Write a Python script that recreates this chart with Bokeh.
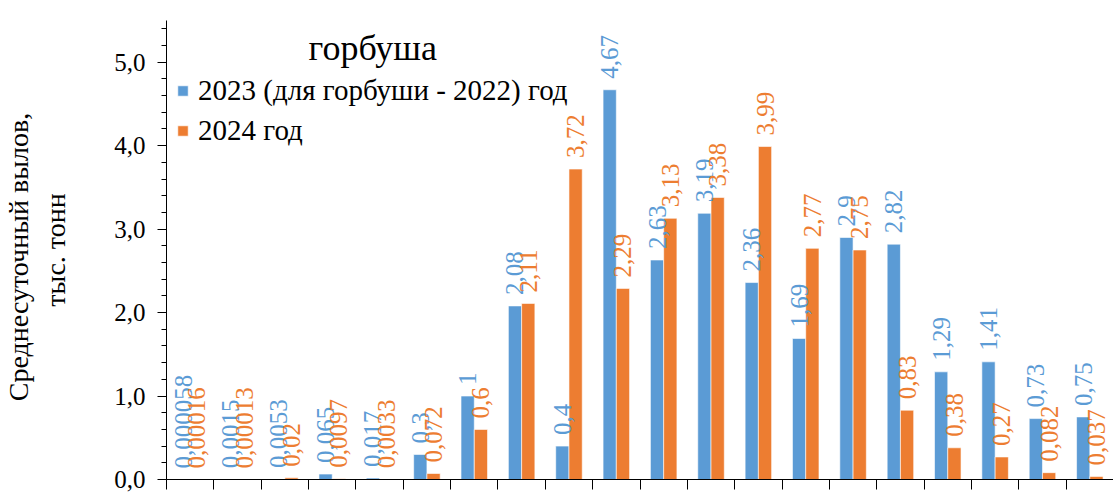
from math import pi
from bokeh.plotting import figure
from bokeh.models import (ColumnDataSource, FixedTicker, CustomJSTickFormatter, Legend,
                          LegendItem, Label, Range1d)
from bokeh.transform import dodge
from bokeh.core.properties import value
from bokeh.embed import file_html
from bokeh.resources import INLINE

title_text = "горбуша"
series_names = ["2023 (для горбуши - 2022) год", "2024 год"]
y_title = "Среднесуточный   вылов,\nтыс. тонн"

values_2023 = [0.000058, 0.0015, 0.0053, 0.065, 0.017, 0.3, 1.0, 2.08, 0.4, 4.67,
               2.63, 3.19, 2.36, 1.69, 2.9, 2.82, 1.29, 1.41, 0.73, 0.75]
values_2024 = [0.00016, 0.00013, 0.02, 0.0097, 0.0033, 0.072, 0.6, 2.11, 3.72, 2.29,
               3.13, 3.38, 3.99, 2.77, 2.75, 0.83, 0.38, 0.27, 0.082, 0.037]

BLUE = "#5B9BD5"
ORANGE = "#ED7D31"
SERIF = "'Liberation Serif', 'Times New Roman', serif"


def fmt(v):
    s = f"{v:.6f}".rstrip("0").rstrip(".")
    return s.replace(".", ",")


n = len(values_2023)
src = ColumnDataSource(dict(
    x=[i + 0.5 for i in range(n)],
    a=values_2023, b=values_2024,
    la=[fmt(v) for v in values_2023],
    lb=[fmt(v) for v in values_2024],
))

p = figure(width=1113, height=493, output_backend="svg", toolbar_location=None,
           x_range=Range1d(0, n), y_range=Range1d(0, 5.5),
           min_border_left=160, min_border_right=0, min_border_top=20, min_border_bottom=14)
p.outline_line_color = None
p.grid.visible = False
p.background_fill_color = "white"
p.border_fill_color = "white"

bw = 0.28
ra = p.vbar(x=dodge("x", -bw / 2, range=p.x_range), top="a", width=bw, source=src,
            fill_color=BLUE, line_color="white", line_width=0.6)
rb = p.vbar(x=dodge("x", bw / 2, range=p.x_range), top="b", width=bw, source=src,
            fill_color=ORANGE, line_color="white", line_width=0.6)

common = dict(angle=pi / 2, text_align="left", text_baseline="middle", y_offset=-11,
              text_font=value(SERIF), text_font_size="25px", source=src)
p.text(x=dodge("x", -bw / 2, range=p.x_range), y="a", text="la", text_color=BLUE, **common)
p.text(x=dodge("x", bw / 2, range=p.x_range), y="b", text="lb", text_color=ORANGE, **common)

# axes
ya = p.yaxis[0]
ya.ticker = FixedTicker(ticks=[0, 1, 2, 3, 4, 5],
                        minor_ticks=[i * 0.2 for i in range(28)])
ya.formatter = CustomJSTickFormatter(code="return tick.toFixed(1).replace('.', ',')")
ya.major_label_text_font = SERIF
ya.major_label_text_font_size = "25px"
ya.major_label_text_color = "black"
ya.major_tick_out = 9
ya.major_tick_in = 0
ya.minor_tick_out = 5
ya.minor_tick_in = 0
ya.major_label_standoff = 12
ya.axis_line_color = "black"
ya.axis_label = y_title
ya.axis_label_text_font = SERIF
ya.axis_label_text_font_size = "28px"
ya.axis_label_text_font_style = "normal"
ya.axis_label_text_color = "black"
ya.axis_label_standoff = 40

xa = p.xaxis[0]
xa.ticker = FixedTicker(ticks=list(range(n + 1)), minor_ticks=[])
xa.formatter = CustomJSTickFormatter(code="return ''")
xa.major_label_standoff = 0
xa.major_tick_out = 10
xa.major_tick_in = 0
xa.minor_tick_out = 0
xa.axis_line_color = "black"

legend = Legend(items=[LegendItem(label=series_names[0], renderers=[ra]),
                       LegendItem(label=series_names[1], renderers=[rb])],
                location=(10, 329), orientation="vertical",
                glyph_width=13, glyph_height=13, label_height=40, spacing=0,
                padding=0, margin=0, label_standoff=9,
                label_text_font=SERIF, label_text_font_size="29px",
                label_text_color="black",
                border_line_alpha=0, background_fill_alpha=0)
p.add_layout(legend, "center")

p.add_layout(Label(x=3.0, y=5.165, text=title_text,
                   text_font=SERIF, text_font_size="36px", text_color="black",
                   text_font_style="normal", text_baseline="alphabetic"))

open("out.html", "w").write(file_html(p, INLINE))
